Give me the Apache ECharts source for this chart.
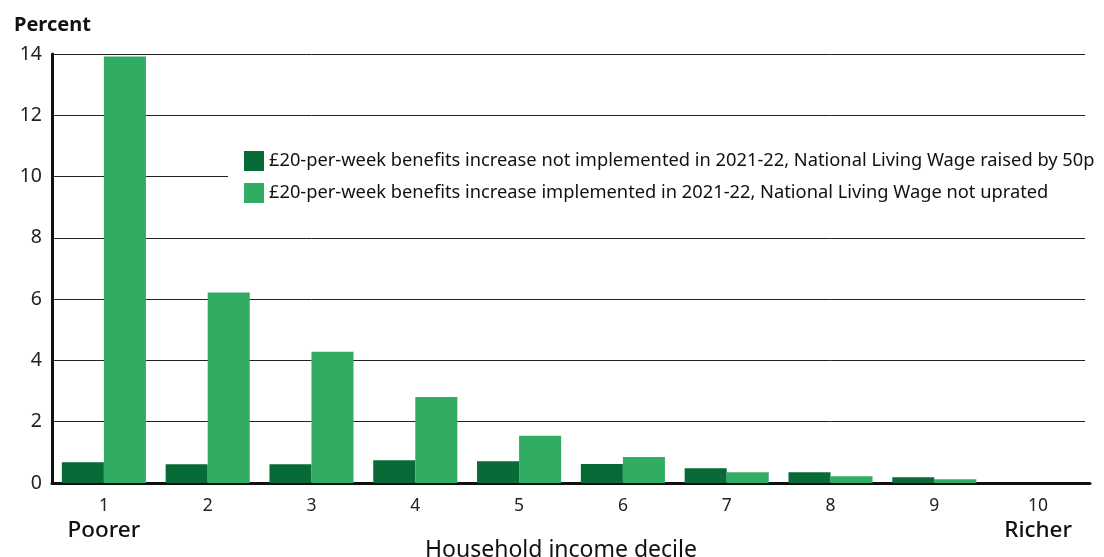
<!DOCTYPE html>
<html><head><meta charset="utf-8">
<script src="https://cdn.jsdelivr.net/npm/echarts@6/dist/echarts.min.js"></script>
<style>html,body{margin:0;padding:0;background:#fff}#c{width:1104px;height:557px}</style>
</head><body><div id="c"></div>
<script>
const categories = ['1','2','3','4','5','6','7','8','9','10'];
const seriesNames = [
  '£20-per-week benefits increase not implemented in 2021-22, National Living Wage raised by 50p',
  '£20-per-week benefits increase implemented in 2021-22, National Living Wage not uprated'
];
const notImplemented = [0.68, 0.61, 0.61, 0.74, 0.71, 0.62, 0.48, 0.35, 0.19, 0];
const implemented = [13.92, 6.22, 4.28, 2.81, 1.54, 0.85, 0.35, 0.22, 0.12, 0];
const yTicks = [0, 2, 4, 6, 8, 10, 12, 14];
const colors = ['#076A37', '#31AC63'];
const FONT = '"Noto Sans", sans-serif';

const chart = echarts.init(document.getElementById('c'));
chart.setOption({
  animation: false,
  color: colors,
  textStyle: {fontFamily: FONT},
  title: {text: 'Percent', left: 9, top: 10, textStyle: {fontFamily: FONT, fontSize: 20, fontWeight: 'bold', color: '#111'}},
  grid: {left: 52, right: 14, top: 54, bottom: 74, outerBoundsMode: 'none', containLabel: false},
  graphic: [{type: 'rect', left: 1085, top: 50, shape: {width: 30, height: 430}, style: {fill: '#fff'}, z: 5}],
  legend: {
    left: 228, top: 147, orient: 'vertical', itemWidth: 20, itemHeight: 20, itemGap: 12,
    icon: 'rect', z: 10,
    backgroundColor: '#fff', padding: [4, 4, 4, 16],
    textStyle: {fontFamily: FONT, fontSize: 18.3, color: '#111', lineHeight: 20},
    data: seriesNames
  },
  xAxis: {
    type: 'category', data: categories,
    axisLine: {lineStyle: {color: '#111', width: 3}},
    axisTick: {show: false},
    axisLabel: {
      interval: 0, margin: 12, color: '#222', fontSize: 17.5,
      formatter: function (v, i) {
        if (i === 0) return '{a|' + v + '}\n{b|Poorer}';
        if (i === 9) return '{a|' + v + '}\n{b|Richer}';
        return '{a|' + v + '}';
      },
      rich: {
        a: {fontSize: 17.5, color: '#222', fontFamily: FONT, lineHeight: 22},
        b: {fontSize: 22.5, color: '#111', fontWeight: 500, fontFamily: FONT, lineHeight: 28}
      }
    },
    name: 'Household income decile', nameLocation: 'middle', nameGap: 56, nameMoveOverlap: false,
    nameTextStyle: {fontSize: 23, color: '#111', fontFamily: FONT, padding: [0, 20, 0, 0]}
  },
  yAxis: {
    type: 'value', min: 0, max: 14, interval: 2,
    axisLine: {show: true, lineStyle: {color: '#111', width: 3}},
    axisTick: {show: false},
    splitLine: {lineStyle: {color: '#222', width: 1}},
    axisLabel: {fontSize: 19.5, color: '#222', margin: 10, formatter: v => yTicks.includes(v) ? String(v) : ''}
  },
  series: [
    {name: seriesNames[0], type: 'bar', data: notImplemented, barGap: '0%', barCategoryGap: '19%', itemStyle: {color: colors[0]}},
    {name: seriesNames[1], type: 'bar', data: implemented, barGap: '0%', barCategoryGap: '19%', itemStyle: {color: colors[1]}}
  ]
});
</script></body></html>
